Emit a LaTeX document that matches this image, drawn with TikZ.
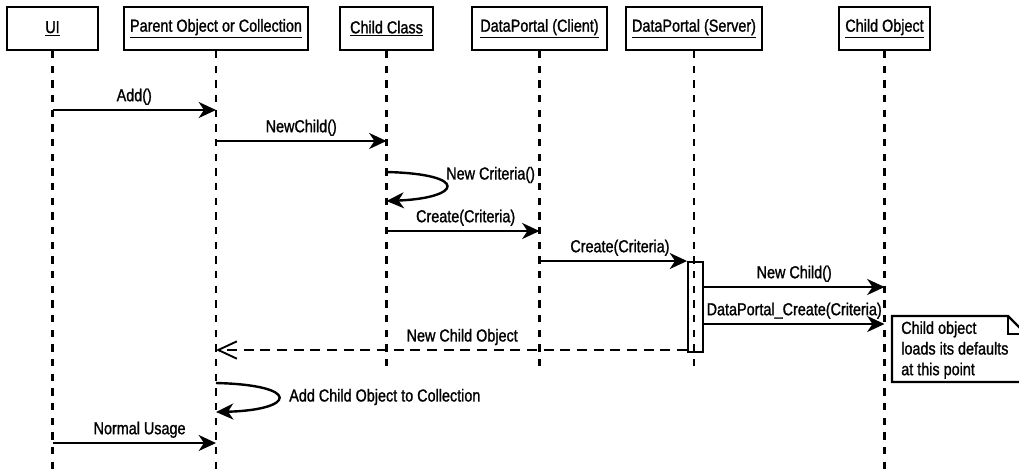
\documentclass[tikz,border=0pt]{standalone}
\usepackage{fontspec}
\setmainfont{Liberation Sans}[FakeStretch=0.83, FakeBold=1.2]
\usetikzlibrary{arrows.meta,positioning,calc}
\tikzset{
    % participant boxes along the top
    actor/.style={
        rectangle,
        draw=black,
        line width=1.6pt,
        fill=white,
        minimum height=32.25pt,
        inner sep=0pt,
        font=\fontsize{13}{15}\selectfont
    },
    lifeline/.style={
        draw=black,
        line width=2pt,
        dash pattern=on 5.5pt off 5.5pt
    },
    msg/.style={
        -{Stealth[length=13pt,width=12pt,inset=4pt]},
        line width=1.8pt
    },
    reply/.style={
        -{Straight Barb[length=14pt,width=13pt]},
        line width=1.4pt,
        dash pattern=on 7.5pt off 5pt
    },
    msg label/.style={
        font=\fontsize{13}{15}\selectfont,
        inner sep=3pt
    },
    activation/.style={
        rectangle,
        draw=black,
        line width=1.4pt,
        inner sep=0pt
    },
    note text/.style={
        font=\fontsize{13}{15.5}\selectfont,
        align=left,
        inner sep=0pt
    }
}
\begin{document}
\begin{tikzpicture}[x=0.75pt, y=-0.75pt]
    \useasboundingbox (0,0) rectangle (1019,469);

    % participants
    \node[actor, minimum width=68.25pt] (ui) at (52.5,28.5) {\underline{UI}};
    \node[actor, minimum width=138pt] (parent) at (216,28.5) {\underline{Parent Object or Collection}};
    \node[actor, minimum width=69.75pt] (cc) at (386.5,28.5) {\underline{Child Class}};
    \node[actor, minimum width=101.25pt] (client) at (539.5,28.5) {\underline{DataPortal (Client)}};
    \node[actor, minimum width=102pt] (server) at (694,28.5) {\underline{DataPortal (Server)}};
    \node[actor, minimum width=68.25pt] (child) at (884.5,28.5) {\underline{Child Object}};

    % lifelines
    \coordinate (bottom) at (0,469);
    \coordinate (short) at (0,373);
    \foreach \p in {ui,parent,child}
        \draw[lifeline] (\p.south) -- (\p.south |- bottom);
    \foreach \p in {cc,client,server}
        \draw[lifeline] (\p.south) -- (\p.south |- short);

    \node[activation, minimum width=11.25pt, minimum height=67.5pt] (act) at (695.5,307) {};

    % message rows
    \coordinate (yadd) at (0,110);
    \coordinate (ynew) at (0,141);
    \coordinate (ycrit) at (0,172);
    \coordinate (ycritend) at (0,201);
    \coordinate (ycr1) at (0,231);
    \coordinate (ycr2) at (0,261);
    \coordinate (ychild) at (0,287);
    \coordinate (ydpc) at (0,324);
    \coordinate (yret) at (0,350);
    \coordinate (ycoll) at (0,383);
    \coordinate (ycollend) at (0,412);
    \coordinate (yuse) at (0,443);

    \draw[msg] (ui |- yadd) -- (parent |- yadd)
        node[msg label, midway, above] (addlbl) {Add()};
    \draw[msg] (parent |- ynew) -- (cc |- ynew)
        node[msg label, midway, above] (newlbl) {NewChild()};
    \draw[msg] (cc |- ycrit) .. controls (470,174) and (462,198) .. (cc |- ycritend);
    \node[msg label, anchor=west] (critlbl) at (442,175) {New Criteria()};
    \draw[msg] (cc |- ycr1) -- (client |- ycr1)
        node[msg label, midway, above, xshift=2pt] (cr1lbl) {Create(Criteria)};
    \draw[msg] (client |- ycr2) -- (act.west |- ycr2)
        node[msg label, midway, above, xshift=5pt] (cr2lbl) {Create(Criteria)};
    \draw[msg] (act.east |- ychild) -- (child |- ychild)
        node[msg label, midway, above] (childlbl) {New Child()};
    \draw[msg] (act.east |- ydpc) -- (child |- ydpc)
        node[msg label, midway, above] (dpclbl) {DataPortal\_Create(Criteria)};
    \draw[reply] (act.west |- yret) -- (parent |- yret)
        node[msg label, midway, above, xshift=8pt] (retlbl) {New Child Object};
    \draw[msg] (parent |- ycoll) .. controls (302,385) and (296,410) .. (parent |- ycollend);
    \node[msg label, anchor=west] (colllbl) at (285,397) {Add Child Object to Collection};
    \draw[msg] (ui |- yuse) -- (parent |- yuse)
        node[msg label, midway, above, xshift=4pt] (uselbl) {Normal Usage};

    % note with folded corner
    \begin{scope}
        \clip (0,0) rectangle (1019,469);
        \draw[line width=1.6pt, line join=miter] (892,316) -- (1008,316) -- (1026,334) -- (1026,382) -- (892,382) -- cycle;
        \draw[line width=1.6pt] (1008,316) -- (1008,334) -- (1026,334);
    \end{scope}
    \node[note text, anchor=north west] (note) at (901,321) {Child object\\loads its defaults\\at this point};
\end{tikzpicture}
\end{document}
